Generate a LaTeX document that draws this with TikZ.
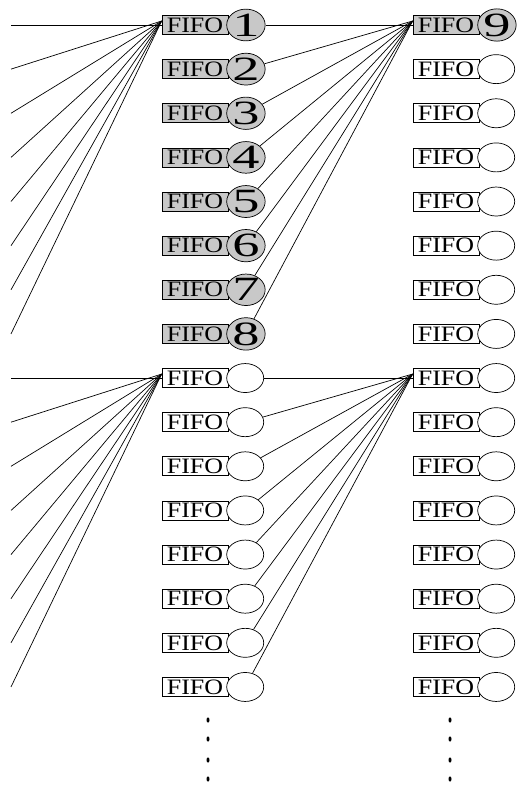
\documentclass[tikz,border=0pt]{standalone}
\usepackage{fontspec}
\setmainfont{Liberation Serif}
\usetikzlibrary{positioning,shapes.geometric}
\definecolor{FifoGray}{RGB}{200,200,200}
\tikzset{
  fifo/box/.style={
    draw,
    line width=0.7pt,
    fill=white,
    minimum width=66pt,
    minimum height=19pt,
    inner sep=0pt,
    font=\fontsize{22}{22}\selectfont
  },
  fifo/slot/.style={
    ellipse,
    draw,
    line width=0.7pt,
    fill=white,
    minimum width=37pt,
    minimum height=29pt,
    inner sep=0pt,
    font=\fontsize{34}{34}\selectfont
  },
  fifo/full/.style={fill=FifoGray},
  fifo/wire/.style={line width=0.7pt},
  fifo/dot/.style={fill=black}
}
\newcommand{\fifolabel}{\scalebox{1.18}[1]{FIFO}}
\newcommand{\slotnum}[1]{\scalebox{1.6}[1]{#1}}

\begin{document}
\begin{tikzpicture}[x=1pt,y=-1pt]
  \useasboundingbox (0,0) rectangle (518,785);
  % two columns of sixteen queues
  \foreach \i in {1,...,16}{
    \pgfmathsetmacro\ry{25+44.13*(\i-1)}
    \ifnum\i<9 \def\lfill{fifo/full}\def\lnum{\slotnum{\i}}\else\def\lfill{}\def\lnum{}\fi
    \ifnum\i=1 \def\rfill{fifo/full}\def\rnum{\slotnum{9}}\else\def\rfill{}\def\rnum{}\fi
    \node[fifo/box,\lfill] (L\i) at (195,\ry) {\fifolabel};
    \node[fifo/slot,\lfill,right=-2pt of L\i] (LE\i) {\lnum};
    \node[fifo/box,\rfill] (R\i) at (446,\ry) {\fifolabel};
    \node[fifo/slot,\rfill,right=-2pt of R\i] (RE\i) {\rnum};
    \coordinate (in\i) at (11,\ry);
  }
  % fan-in points
  \foreach \g in {1,9}{
    \coordinate (HL\g) at ([yshift=4pt]L\g.west);
    \coordinate (HR\g) at ([yshift=4pt]R\g.west);
  }
  % top group
  \draw[fifo/wire] (in1) -- (L1.west);
  \draw[fifo/wire] (LE1.east) -- (R1.west);
  \foreach \i in {2,...,8}{
    \draw[fifo/wire] (in\i) -- (HL1);
    \draw[fifo/wire] (LE\i) -- (HR1);
  }
  % bottom group
  \draw[fifo/wire] (in9) -- (L9.west);
  \draw[fifo/wire] (LE9.east) -- (R9.west);
  \foreach \i in {10,...,16}{
    \draw[fifo/wire] (in\i) -- (HL9);
    \draw[fifo/wire] (LE\i) -- (HR9);
  }
  % continuation dots
  \foreach \dy in {720,739,760,779}{
    \fill[fifo/dot] (208,\dy) ellipse [x radius=1.5pt, y radius=2.6pt];
    \fill[fifo/dot] (450,\dy) ellipse [x radius=1.5pt, y radius=2.6pt];
  }
\end{tikzpicture}
\end{document}
